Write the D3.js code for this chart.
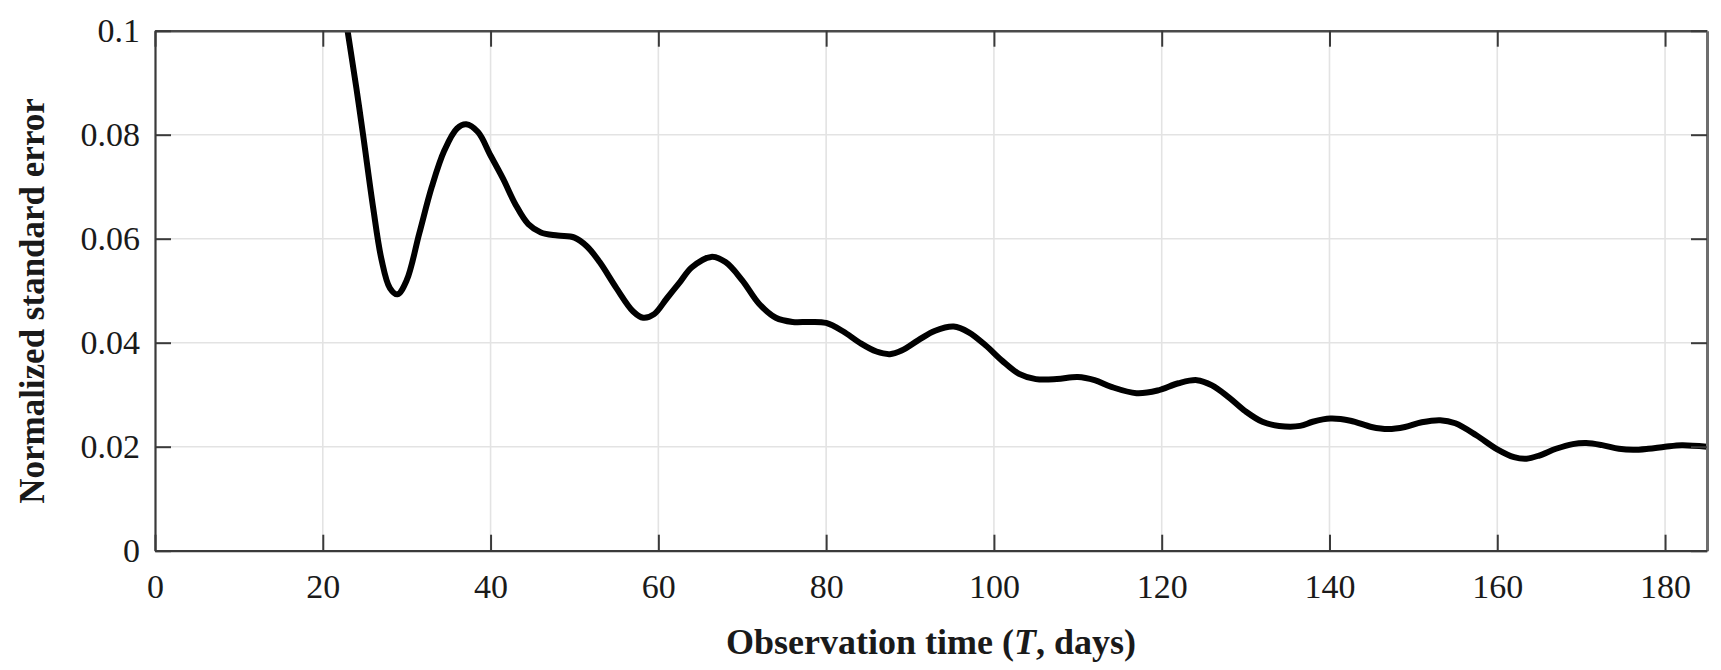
<!DOCTYPE html>
<html>
<head>
<meta charset="utf-8">
<script src="https://cdn.jsdelivr.net/npm/d3@7"></script>
<style>
  html, body { margin: 0; padding: 0; background: #ffffff; }
  svg { display: block; }
  text { font-family: "Liberation Serif", "Times New Roman", serif; fill: #1a1a1a; }
</style>
</head>
<body>
<svg id="chart" width="1721" height="670"></svg>
<script>
// Observation time (days) and the normalized standard error at each time
const obsTime = [
  22, 23.0, 24.0, 24.8, 26.0, 27.0, 28.0, 28.9, 30.0, 31.5, 33.0, 34.5, 36.0, 37.1,
  38.5, 40.0, 41.5, 43.0, 44.5, 46.0, 48.0, 50.0, 51.5, 53.0, 55.0, 57.0, 58.2, 59.5,
  61.0, 62.5, 64.0, 66.3, 68.0, 70.0, 72.0, 74.0, 76.0, 78.0, 80.0, 82.0, 84.0, 86.0,
  87.6, 89.0, 91.0, 93.0, 95.2, 97.0, 99.0, 101.0, 103.0, 105.0, 107.5, 110.0, 112.0,
  114.0, 117.0, 119.5, 122.0, 124.2, 126.0, 128.0, 130.0, 132.0, 134.0, 136.5, 138.0,
  140.1, 142.5, 145.0, 147.0, 149.0, 151.0, 153.2, 155.0, 157.5, 160.0, 162.0, 163.5,
  165.0, 167.0, 169.0, 170.6, 172.5, 174.5, 176.2, 178.0, 180.0, 182.0, 185.0
];
const stdError = [
  0.110, 0.0995, 0.089, 0.080, 0.066, 0.056, 0.0505, 0.0493, 0.052, 0.061, 0.070, 0.077, 0.0812, 0.0820,
  0.0805, 0.0760, 0.0715, 0.0665, 0.0628, 0.0612, 0.0606, 0.0602, 0.0585, 0.0555, 0.0505, 0.0460, 0.0448, 0.0455,
  0.0485, 0.0515, 0.0545, 0.0565, 0.0555, 0.0520, 0.0475, 0.0448, 0.0440, 0.0440, 0.0438, 0.0422, 0.0400, 0.0383,
  0.0378, 0.0385, 0.0405, 0.0423, 0.0431, 0.0420, 0.0395, 0.0365, 0.0340, 0.0330, 0.0330, 0.0334, 0.0328,
  0.0315, 0.0303, 0.0308, 0.0322, 0.0328, 0.0318, 0.0295, 0.0268, 0.0248, 0.0240, 0.0240, 0.0248,
  0.0254, 0.0250, 0.0238, 0.0234, 0.0238, 0.0247, 0.0251, 0.0245, 0.0222, 0.0195, 0.0180, 0.0177,
  0.0183, 0.0196, 0.0205, 0.0207, 0.0203, 0.0196, 0.0194, 0.0196, 0.0200, 0.0203, 0.0200
];

const xTicks = [0, 20, 40, 60, 80, 100, 120, 140, 160, 180];
const yTicks = [0, 0.02, 0.04, 0.06, 0.08, 0.1];
const yTickLabels = ["0", "0.02", "0.04", "0.06", "0.08", "0.1"];

const xTitle = "Observation time (";
const xTitleVar = "T";
const xTitleEnd = ", days)";
const yTitle = "Normalized standard error";

const svg = d3.select("#chart");
const plot = { left: 155, right: 1707, top: 30.7, bottom: 550.7 };

const x = d3.scaleLinear().domain([0, 185]).range([plot.left, plot.right]);
const y = d3.scaleLinear().domain([0, 0.1]).range([plot.bottom, plot.top]);

const axisColor = "#3a3a3a";
const gridColor = "#e3e3e3";
const tickLen = 16;

// grid
const grid = svg.append("g");
grid.selectAll("line.gx").data(xTicks.filter(d => d > 0)).enter().append("line")
  .attr("x1", d => x(d)).attr("x2", d => x(d))
  .attr("y1", plot.top).attr("y2", plot.bottom)
  .attr("stroke", gridColor).attr("stroke-width", 1.6);
grid.selectAll("line.gy").data(yTicks.filter(d => d > 0 && d < 0.1)).enter().append("line")
  .attr("x1", plot.left).attr("x2", plot.right)
  .attr("y1", d => y(d)).attr("y2", d => y(d))
  .attr("stroke", gridColor).attr("stroke-width", 1.6);

// curve, clipped to the plotting box
svg.append("clipPath").attr("id", "plotClip").append("rect")
  .attr("x", plot.left).attr("y", plot.top)
  .attr("width", plot.right - plot.left).attr("height", plot.bottom - plot.top);

const points = obsTime.map((t, i) => [t, stdError[i]]);
const line = d3.line()
  .x(d => x(d[0]))
  .y(d => y(d[1]))
  .curve(d3.curveCatmullRom.alpha(0.5));

svg.append("path")
  .datum(points)
  .attr("clip-path", "url(#plotClip)")
  .attr("d", line)
  .attr("fill", "none")
  .attr("stroke", "#000")
  .attr("stroke-width", 6)
  .attr("stroke-linejoin", "round")
  .attr("stroke-linecap", "round");

// axes
function styleAxis(g, domainColor, domainWidth) {
  g.select(".domain").attr("stroke", domainColor || axisColor).attr("stroke-width", domainWidth || 2.2);
  g.selectAll(".tick line").attr("stroke", axisColor).attr("stroke-width", 2);
  g.selectAll(".tick text")
    .attr("fill", "#1a1a1a")
    .style("font-family", '"Liberation Serif", "Times New Roman", serif')
    .style("font-size", "34px");
}

svg.append("g")
  .attr("transform", `translate(0,${plot.top})`)
  .call(d3.axisTop(x).tickValues(xTicks).tickSizeInner(-tickLen).tickSizeOuter(0).tickFormat(""))
  .call(g => styleAxis(g, "#4a4a4a", 2.4));

svg.append("g")
  .attr("transform", `translate(${plot.right},0)`)
  .call(d3.axisRight(y).tickValues(yTicks).tickSizeInner(-tickLen).tickSizeOuter(0).tickFormat(""))
  .call(g => styleAxis(g, "#6e6e6e", 3));

svg.append("g")
  .attr("transform", `translate(0,${plot.bottom})`)
  .call(d3.axisBottom(x).tickValues(xTicks).tickSizeInner(-tickLen).tickSizeOuter(0).tickPadding(23)
    .tickFormat(d3.format("d")))
  .call(g => styleAxis(g));

svg.append("g")
  .attr("transform", `translate(${plot.left},0)`)
  .call(d3.axisLeft(y).tickValues(yTicks).tickSizeInner(-tickLen).tickSizeOuter(0).tickPadding(15)
    .tickFormat((d, i) => yTickLabels[i]))
  .call(g => styleAxis(g));

// axis titles
const xt = svg.append("text")
  .attr("x", (plot.left + plot.right) / 2)
  .attr("y", 654)
  .attr("text-anchor", "middle")
  .style("font-size", "36px")
  .style("font-weight", "bold");
xt.append("tspan").text(xTitle);
xt.append("tspan").style("font-style", "italic").text(xTitleVar);
xt.append("tspan").text(xTitleEnd);

svg.append("text")
  .attr("transform", `translate(44,${301}) rotate(-90)`)
  .attr("text-anchor", "middle")
  .style("font-size", "35px")
  .style("font-weight", "bold")
  .text(yTitle);
</script>
</body>
</html>
